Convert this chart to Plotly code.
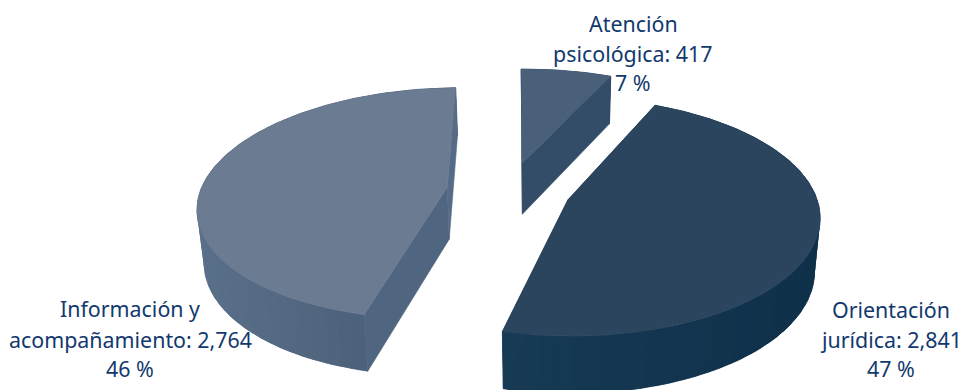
import numpy as np
import plotly.graph_objects as go

# Service totals, in drawing order (clockwise from the top of the pie)
label_lines = [["Atención", "psicológica: {v}"],
               ["Orientación", "jurídica: {v}"],
               ["Información y", "acompañamiento: {v}"]]
values = [417, 2841, 2764]
percents = [7, 47, 46]

# Face colours per slice
top_colors = ["#4a6078", "#2b455e", "#6a7b92"]
start_wall_colors = ["#1f3f5c", "#173a55", "#50657f"]
end_wall_colors = ["#334c68", "#173a55", "#566b85"]
rim_left_colors = [(51, 76, 104), (23, 58, 85), (90, 112, 137)]
rim_right_colors = [(51, 76, 104), (15, 48, 73), (68, 88, 114)]

TEXT_COLOR = "#12396e"
FONT = "Noto Sans"

# Camera model of the tilted disc
START_DEG = 91.0
EXPLODE = 0.252
RADIUS = 0.998
CENTER_X = -0.155
VANISH_X = 547.0
HORIZON_Y = 190.5
SCALE_X = 247.0
SCALE_Y = 114.5
PERSPECTIVE = 0.14
THICKNESS = 52.0
BASE_SHRINK = 0.98

# Label anchors: centre x and the centre y of each of the three lines
label_x = [633, 891, 130]
label_y = [[23, 53, 82], [309, 339, 368], [308, 339, 368]]


def project(X, Y):
    w = 1 + PERSPECTIVE * Y
    return VANISH_X + SCALE_X * X / w, HORIZON_Y - SCALE_Y * Y / w, w


def lower(x, y, w):
    return VANISH_X + (x - VANISH_X) * BASE_SHRINK, y + THICKNESS / w ** 0.6


def poly(x, y, color, edge=True):
    return go.Scatter(x=list(x) + [x[0]], y=list(y) + [y[0]], mode="lines",
                      fill="toself", fillcolor=color,
                      line=dict(color=color, width=0.6 if edge else 0),
                      hoverinfo="skip", showlegend=False)


fig = go.Figure()
total = sum(values)
angle = START_DEG
for i, v in enumerate(values):
    sweep = 360.0 * v / total
    t0, t1 = angle, angle - sweep
    angle = t1
    mid = np.radians((t0 + t1) / 2)
    ox, oy = CENTER_X + EXPLODE * np.cos(mid), EXPLODE * np.sin(mid)

    theta = np.radians(np.linspace(t0, t1, int(sweep / 1.0) + 2))
    xs, ys, ws = project(ox + RADIUS * np.cos(theta), oy + RADIUS * np.sin(theta))
    bx, by = lower(xs, ys, ws)
    ax, ay, aw = project(ox, oy)
    abx, aby = lower(ax, ay, aw)

    # Solid rim underneath so the shaded bands never show a seam
    fig.add_trace(poly(np.r_[xs, bx[::-1]], np.r_[ys, by[::-1]],
                       "rgb({},{},{})".format(*rim_left_colors[i]), edge=True))

    # Outer rim, shaded from its screen-left colour to its screen-right;
    # every band runs over the next one's start and is painted over in turn
    span = xs.max() - xs.min()
    step = 3
    for j in range(0, len(xs) - 1, step):
        k = min(j + step + 1, len(xs) - 1)
        f = (0.5 * (xs[j] + xs[min(j + step, k)]) - xs.min()) / span
        c = [round(l + (r - l) * f) for l, r in zip(rim_left_colors[i], rim_right_colors[i])]
        band_x = np.r_[xs[j:k + 1], bx[j:k + 1][::-1]]
        band_y = np.r_[ys[j:k + 1], by[j:k + 1][::-1]]
        fig.add_trace(poly(band_x, band_y, f"rgb({c[0]},{c[1]},{c[2]})", edge=False))

    # Radial cut faces
    fig.add_trace(poly([ax, xs[0], bx[0], abx], [ay, ys[0], by[0], aby], start_wall_colors[i]))
    fig.add_trace(poly([ax, xs[-1], bx[-1], abx], [ay, ys[-1], by[-1], aby], end_wall_colors[i]))

    # Top face
    fig.add_trace(poly(np.r_[ax, xs], np.r_[ay, ys], top_colors[i]))

    # Three-line label
    lines = [label_lines[i][0], label_lines[i][1].format(v=f"{v:,}"), f"{percents[i]} %"]
    for text, y in zip(lines, label_y[i]):
        fig.add_annotation(x=label_x[i], y=y, text=text, showarrow=False,
                           xanchor="center", yanchor="middle",
                           font=dict(family=FONT, size=21.4, color=TEXT_COLOR))

fig.update_layout(width=961, height=390, margin=dict(l=0, r=0, t=0, b=0),
                  paper_bgcolor="white", plot_bgcolor="white",
                  xaxis=dict(range=[0, 961], visible=False, fixedrange=True),
                  yaxis=dict(range=[390, 0], visible=False, fixedrange=True))
fig.write_html("out.html")
